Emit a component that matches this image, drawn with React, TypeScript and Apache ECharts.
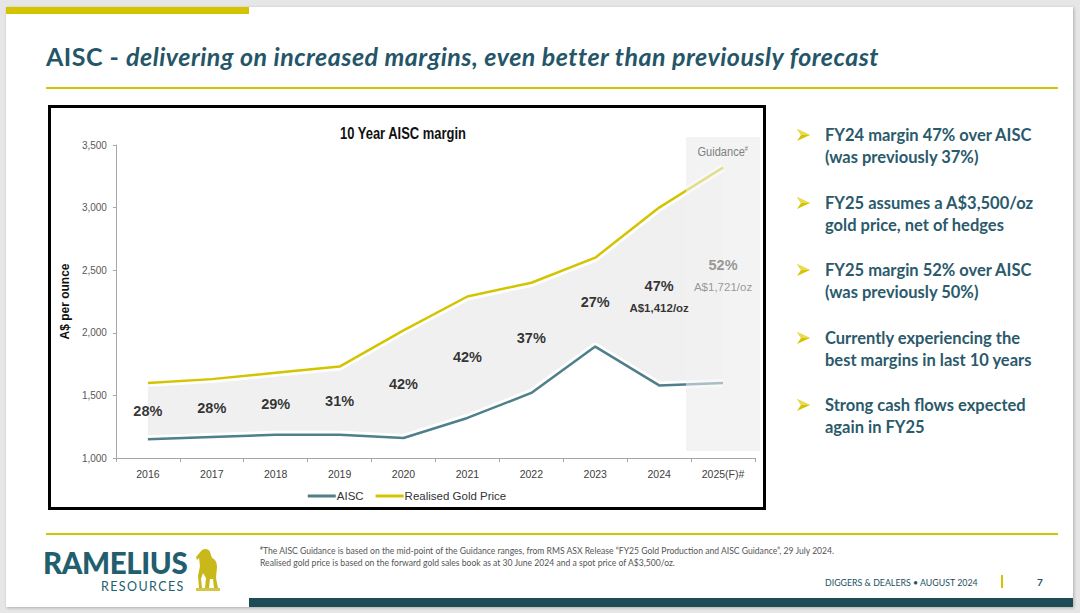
import React, { useEffect, useRef } from "react";
import * as echarts from "echarts";

const years = ["2016", "2017", "2018", "2019", "2020", "2021", "2022", "2023", "2024", "2025(F)#"];
const aisc = [1150, 1168, 1185, 1185, 1160, 1320, 1520, 1890, 1580, 1600];
const goldPrice = [1600, 1630, 1680, 1730, 2020, 2290, 2400, 2600, 3000, 3320];
const marginPct = ["28%", "28%", "29%", "31%", "42%", "42%", "37%", "27%", "47%", "52%"];
const marginPerOz = ["", "", "", "", "", "", "", "", "A$1,412/oz", "A$1,721/oz"];
const guidanceIndex = 9;

const bullets = [
  ["FY24 margin 47% over AISC", "(was previously 37%)"],
  ["FY25 assumes a A$3,500/oz", "gold price, net of hedges"],
  ["FY25 margin 52% over AISC", "(was previously 50%)"],
  ["Currently experiencing the", "best margins in last 10 years"],
  ["Strong cash flows expected", "again in FY25"],
];

const ARIAL = "'Liberation Sans', Arial, sans-serif";
const SLIDE = "Lato, 'Open Sans', sans-serif";
const TEAL = "#245568";
const GOLD = "#d4c400";

function Chart() {
  const ref = useRef<HTMLDivElement>(null);
  useEffect(() => {
    if (!ref.current) return;
    const chart = echarts.init(ref.current, undefined, { renderer: "svg" });
    const mid = years.map((_, i) => ({
      value: [i, (goldPrice[i] + aisc[i]) / 2],
      label: {
        formatter: marginPerOz[i] ? `{p|${marginPct[i]}}\n{o|${marginPerOz[i]}}` : `{p|${marginPct[i]}}`,
        rich: {
          p: {
            fontFamily: ARIAL,
            fontSize: 14.5,
            fontWeight: "bold",
            color: i === guidanceIndex ? "#7f7f7f" : "#000",
            lineHeight: 24,
          },
          o: {
            fontFamily: ARIAL,
            fontSize: 11.5,
            fontWeight: i === guidanceIndex ? "normal" : "bold",
            color: i === guidanceIndex ? "#7f7f7f" : "#000",
            lineHeight: 20,
          },
        },
      },
    }));
    chart.setOption({
      animation: false,
      backgroundColor: "#fff",
      grid: { left: 55, right: 8, top: 37, bottom: 49 },
      xAxis: {
        type: "category",
        data: years,
        boundaryGap: true,
        axisLine: { lineStyle: { color: "#a6a6a6", width: 1 } },
        axisTick: { show: true, length: 4, lineStyle: { color: "#a6a6a6" } },
        axisLabel: { fontFamily: ARIAL, fontSize: 10.5, color: "#404040", margin: 10 },
      },
      yAxis: {
        type: "value",
        min: 1000,
        max: 3500,
        interval: 500,
        name: "A$ per ounce",
        nameLocation: "middle",
        nameGap: 40,
        nameTextStyle: { fontFamily: ARIAL, fontSize: 12, fontWeight: "bold", color: "#111" },
        axisLine: { show: true, lineStyle: { color: "#a6a6a6", width: 1 } },
        axisTick: { show: true, length: 3, lineStyle: { color: "#a6a6a6" } },
        splitLine: { show: false },
        axisLabel: {
          fontFamily: ARIAL,
          fontSize: 10,
          color: "#595959",
          margin: 9,
          formatter: (v: number) => v.toLocaleString("en-US"),
        },
      },
      legend: {
        data: [
          { name: "AISC", icon: "rect" },
          { name: "Realised Gold Price", icon: "rect" },
        ],
        left: "center",
        top: 377,
        itemWidth: 28,
        itemHeight: 3,
        itemGap: 12,
        textStyle: { fontFamily: ARIAL, fontSize: 11.5, color: "#333", padding: [0, 0, 0, -4] },
      },
      graphic: [
        {
          type: "rect",
          z: 1,
          silent: true,
          shape: { x: 635, y: 29, width: 74, height: 314 },
          style: { fill: "#f3f3f3" },
        },
        {
          type: "rect",
          z: 50,
          silent: true,
          shape: { x: 635, y: 29, width: 74, height: 314 },
          style: { fill: "rgba(243,243,243,0.55)" },
        },
        {
          type: "text",
          z: 60,
          x: 697,
          y: 44,
          scaleX: 0.82,
          style: {
            text: "{a|Guidance}{b|#}",
            textAlign: "right",
            textVerticalAlign: "middle",
            fill: "#808080",
            rich: {
              a: { fontFamily: ARIAL, fontSize: 13.5, fill: "#808080" },
              b: { fontFamily: ARIAL, fontSize: 7, fill: "#808080", verticalAlign: "top", padding: [0, 0, 6, 0] },
            },
          },
        },
        {
          type: "text",
          z: 60,
          x: 352,
          y: 26,
          scaleX: 0.81,
          style: {
            text: "10 Year AISC margin",
            textAlign: "center",
            textVerticalAlign: "middle",
            fontFamily: ARIAL,
            fontSize: 16,
            fontWeight: "bold",
            fill: "#111",
          },
        },
      ],
      series: [
        {
          name: "_base",
          type: "line",
          stack: "band",
          data: aisc,
          showSymbol: false,
          silent: true,
          lineStyle: { opacity: 0 },
          z: 2,
        },
        {
          name: "_band",
          type: "line",
          stack: "band",
          data: goldPrice.map((g, i) => g - aisc[i]),
          showSymbol: false,
          silent: true,
          lineStyle: { opacity: 0 },
          areaStyle: { color: "#f0f0f0", opacity: 1 },
          z: 2,
        },
        {
          name: "_haloA",
          type: "line",
          data: aisc,
          showSymbol: false,
          silent: true,
          lineStyle: { color: "#fff", width: 8 },
          z: 3,
        },
        {
          name: "_haloG",
          type: "line",
          data: goldPrice,
          showSymbol: false,
          silent: true,
          lineStyle: { color: "#fff", width: 8 },
          z: 3,
        },
        {
          name: "AISC",
          type: "line",
          data: aisc,
          showSymbol: false,
          itemStyle: { color: "#4e7f8a" },
          lineStyle: { color: "#4e7f8a", width: 2.5 },
          z: 4,
        },
        {
          name: "Realised Gold Price",
          type: "line",
          data: goldPrice,
          showSymbol: false,
          itemStyle: { color: GOLD },
          lineStyle: { color: GOLD, width: 2.5 },
          z: 4,
        },
        {
          name: "_labels",
          type: "scatter",
          data: mid,
          symbolSize: 0,
          silent: true,
          z: 100,
          label: { show: true, position: "inside", align: "center", verticalAlign: "middle" },
        },
      ],
    });
    return () => chart.dispose();
  }, []);
  return <div ref={ref} style={{ position: "absolute", left: 51, top: 108, width: 712, height: 399 }} />;
}

function Arrow({ x, y }: { x: number; y: number }) {
  return (
    <svg style={{ position: "absolute", left: x, top: y }} width={13} height={12} viewBox="0 0 13 12">
      <polygon points="0,0 13,6 0,12 4,6" fill={GOLD} />
      <polygon points="0,0 13,6 4,6" fill="#e8dc55" />
    </svg>
  );
}

export default function App() {
  return (
    <div
      style={{
        position: "fixed",
        left: 0,
        top: 0,
        width: 1080,
        height: 613,
        background: "#e6e6e6",
        overflow: "hidden",
        fontFamily: SLIDE,
      }}
    >
      <div
        style={{
          position: "absolute",
          left: 6,
          top: 7,
          width: 1067,
          height: 600,
          background: "#fff",
          boxShadow: "1px 1px 3px rgba(0,0,0,0.25)",
        }}
      />
      <div style={{ position: "absolute", left: 6, top: 7, width: 243, height: 7, background: GOLD }} />
      <div
        style={{
          position: "absolute",
          left: 46,
          top: 41,
          fontSize: 25,
          fontWeight: 700,
          color: TEAL,
          whiteSpace: "nowrap",
          lineHeight: "30px",
          letterSpacing: "0.5px",
        }}
      >
        AISC - <i>delivering on increased margins, even better than previously forecast</i>
      </div>
      <div style={{ position: "absolute", left: 46, top: 87, width: 1012, height: 2, background: GOLD }} />

      <div
        style={{
          position: "absolute",
          left: 48,
          top: 105,
          width: 718,
          height: 405,
          border: "3px solid #000",
          boxSizing: "border-box",
        }}
      />
      <Chart />

      {bullets.map((b, i) => (
        <React.Fragment key={i}>
          <Arrow x={797} y={129 + i * 67.5} />
          <div
            style={{
              position: "absolute",
              left: 825,
              top: 124 + i * 67.5,
              fontSize: 16.5,
              fontWeight: 700,
              color: "#2a5a6b",
              lineHeight: "22px",
              whiteSpace: "nowrap",
            }}
          >
            {b[0]}
            <br />
            {b[1]}
          </div>
        </React.Fragment>
      ))}

      <div style={{ position: "absolute", left: 46, top: 533, width: 1012, height: 2, background: GOLD }} />

      <div
        style={{
          position: "absolute",
          left: 43,
          top: 552,
          fontSize: 29.5,
          fontWeight: 900,
          color: "#215e6e",
          lineHeight: "22px",
          height: 22,
          overflow: "visible",
          letterSpacing: "-0.4px",
        }}
      >
        RAMELIUS
      </div>
      <div
        style={{
          position: "absolute",
          left: 101,
          top: 581,
          fontSize: 12.5,
          color: "#215e6e",
          letterSpacing: "1.4px",
          lineHeight: "12px",
        }}
      >
        RESOURCES
      </div>
      <svg style={{ position: "absolute", left: 196, top: 548 }} width={24} height={44} viewBox="0 0 24 44">
        <path
          d="M6,2 C9,0 13,1 14,4 L16,10 C19,11 21,14 21,19 L20,30 L22,40 L18,40 L17,31 L14,31 L13,40 L9,40 L10,30 L7,25 L5,31 L6,40 L3,40 L2,28 L4,18 L3,10 L1,12 L0,9 Z"
          fill="#c9b81a"
        />
        <rect x={0} y={40} width={24} height={3} fill="#c9b81a" opacity={0.8} />
      </svg>

      <div
        style={{
          position: "absolute",
          left: 260,
          top: 545,
          fontSize: 8.6,
          color: "#555",
          lineHeight: "12px",
          whiteSpace: "nowrap",
        }}
      >
        <sup style={{ fontSize: 5, lineHeight: 0 }}>#</sup>The AISC Guidance is based on the mid-point of the Guidance ranges, from RMS ASX Release
        “FY25 Gold Production and AISC Guidance”, 29 July 2024.
        <br />
        Realised gold price is based on the forward gold sales book as at 30 June 2024 and a spot price of A$3,500/oz.
      </div>

      <div
        style={{
          position: "absolute",
          left: 825,
          top: 577,
          fontSize: 8.8,
          color: "#24505f",
          lineHeight: "12px",
          whiteSpace: "nowrap",
        }}
      >
        DIGGERS &amp; DEALERS • AUGUST 2024
      </div>
      <div style={{ position: "absolute", left: 1001, top: 575, width: 2, height: 13, background: GOLD }} />
      <div
        style={{
          position: "absolute",
          left: 1037,
          top: 576,
          fontSize: 10,
          fontWeight: 700,
          color: "#24505f",
          lineHeight: "12px",
        }}
      >
        7
      </div>
      <div style={{ position: "absolute", left: 249, top: 598, width: 824, height: 9, background: "#1e4b55" }} />
    </div>
  );
}
